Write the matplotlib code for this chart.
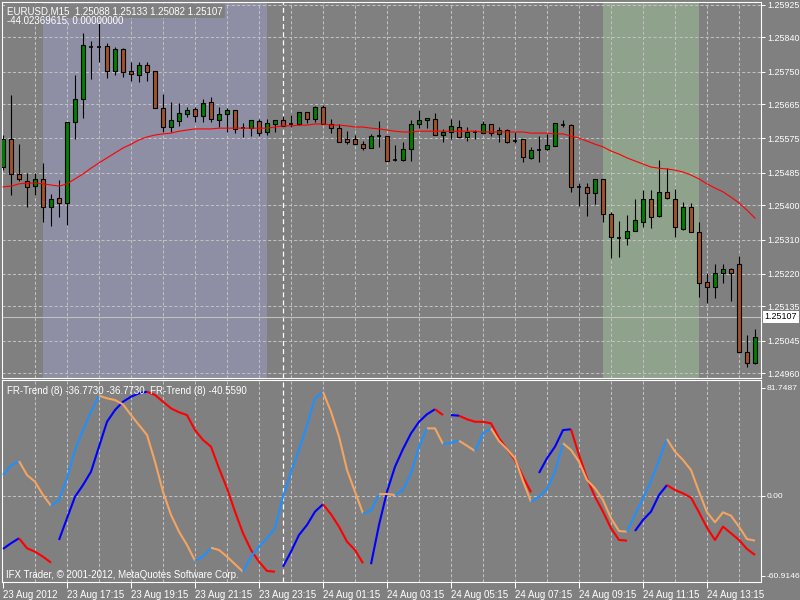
import numpy as np
import pandas as pd
import matplotlib
matplotlib.use('Agg')
import matplotlib.pyplot as plt
from matplotlib.transforms import blended_transform_factory

plt.rcParams['font.family'] = ['Liberation Sans', 'DejaVu Sans']

# EURUSD M15 bars, 23 Aug 2012 15:15 -> 24 Aug 2012 14:45
bar_times = pd.date_range('2012-08-23 15:15', periods=95, freq='15min')

opens = [1.25500, 1.25573, 1.25482, 1.25463, 1.25450, 1.25469, 1.25395, 1.25419, 1.25406, 1.25618,
         1.25678, 1.25815, 1.25815, 1.25817, 1.25752, 1.25809, 1.25752, 1.25741, 1.25768, 1.25752,
         1.25655, 1.25605, 1.25621, 1.25639, 1.25652, 1.25634, 1.25671, 1.25623, 1.25639, 1.25650,
         1.25602, 1.25602, 1.25621, 1.25592, 1.25613, 1.25623, 1.25613, 1.25613, 1.25644, 1.25626,
         1.25657, 1.25613, 1.25602, 1.25573, 1.25573, 1.25560, 1.25550, 1.25581, 1.25581, 1.25518,
         1.25518, 1.25547, 1.25613, 1.25623, 1.25626, 1.25584, 1.25592, 1.25605, 1.25579, 1.25592,
         1.25589, 1.25613, 1.25587, 1.25597, 1.25568, 1.25573, 1.25524, 1.25545, 1.25547, 1.25555,
         1.25610, 1.25610, 1.25448, 1.25448, 1.25432, 1.25469, 1.25377, 1.25314, 1.25314, 1.25332,
         1.25356, 1.25416, 1.25372, 1.25435, 1.25416, 1.25338, 1.25395, 1.25330, 1.25199, 1.25185,
         1.25222, 1.25233, 1.25246, 1.25015, 1.24986]
highs = [1.25584, 1.25689, 1.25560, 1.25484, 1.25484, 1.25511, 1.25429, 1.25466, 1.25618, 1.25741,
         1.25851, 1.25830, 1.25878, 1.25825, 1.25815, 1.25812, 1.25775, 1.25775, 1.25775, 1.25752,
         1.25691, 1.25671, 1.25668, 1.25657, 1.25657, 1.25678, 1.25684, 1.25657, 1.25655, 1.25650,
         1.25615, 1.25623, 1.25626, 1.25626, 1.25623, 1.25634, 1.25636, 1.25644, 1.25644, 1.25660,
         1.25663, 1.25626, 1.25613, 1.25594, 1.25584, 1.25568, 1.25587, 1.25621, 1.25581, 1.25558,
         1.25566, 1.25623, 1.25650, 1.25629, 1.25642, 1.25600, 1.25626, 1.25623, 1.25605, 1.25597,
         1.25621, 1.25613, 1.25605, 1.25600, 1.25592, 1.25573, 1.25553, 1.25581, 1.25587, 1.25615,
         1.25623, 1.25613, 1.25458, 1.25458, 1.25469, 1.25469, 1.25382, 1.25359, 1.25374, 1.25416,
         1.25440, 1.25440, 1.25518, 1.25497, 1.25442, 1.25408, 1.25406, 1.25356, 1.25222, 1.25246,
         1.25246, 1.25235, 1.25267, 1.25060, 1.25075]
lows = [1.25492, 1.25427, 1.25463, 1.25395, 1.25427, 1.25356, 1.25345, 1.25369, 1.25348, 1.25573,
        1.25629, 1.25731, 1.25775, 1.25733, 1.25741, 1.25736, 1.25726, 1.25723, 1.25726, 1.25655,
        1.25592, 1.25592, 1.25608, 1.25631, 1.25618, 1.25618, 1.25618, 1.25605, 1.25592, 1.25589,
        1.25579, 1.25581, 1.25581, 1.25584, 1.25592, 1.25608, 1.25605, 1.25610, 1.25615, 1.25618,
        1.25613, 1.25589, 1.25566, 1.25560, 1.25560, 1.25545, 1.25550, 1.25553, 1.25516, 1.25516,
        1.25516, 1.25516, 1.25602, 1.25602, 1.25584, 1.25566, 1.25573, 1.25579, 1.25568, 1.25573,
        1.25589, 1.25581, 1.25566, 1.25563, 1.25563, 1.25513, 1.25521, 1.25513, 1.25545, 1.25555,
        1.25605, 1.25435, 1.25398, 1.25372, 1.25403, 1.25356, 1.25262, 1.25264, 1.25296, 1.25332,
        1.25343, 1.25340, 1.25369, 1.25416, 1.25317, 1.25335, 1.25330, 1.25159, 1.25144, 1.25157,
        1.25196, 1.25149, 1.25015, 1.24976, 1.24984]
closes = [1.25573, 1.25482, 1.25469, 1.25448, 1.25469, 1.25395, 1.25416, 1.25406, 1.25618, 1.25678,
          1.25820, 1.25815, 1.25815, 1.25752, 1.25809, 1.25749, 1.25744, 1.25768, 1.25749, 1.25655,
          1.25605, 1.25623, 1.25642, 1.25650, 1.25634, 1.25668, 1.25626, 1.25639, 1.25650, 1.25600,
          1.25602, 1.25623, 1.25589, 1.25615, 1.25623, 1.25608, 1.25613, 1.25644, 1.25626, 1.25657,
          1.25613, 1.25602, 1.25566, 1.25566, 1.25560, 1.25550, 1.25581, 1.25581, 1.25516, 1.25518,
          1.25547, 1.25613, 1.25623, 1.25629, 1.25584, 1.25592, 1.25608, 1.25579, 1.25592, 1.25592,
          1.25613, 1.25589, 1.25597, 1.25566, 1.25568, 1.25526, 1.25545, 1.25545, 1.25558, 1.25615,
          1.25610, 1.25448, 1.25448, 1.25432, 1.25469, 1.25377, 1.25317, 1.25314, 1.25332, 1.25361,
          1.25416, 1.25369, 1.25435, 1.25419, 1.25343, 1.25395, 1.25330, 1.25196, 1.25185, 1.25222,
          1.25233, 1.25222, 1.25015, 1.24986, 1.25054]
ma = [1.25448, 1.25450, 1.25456, 1.25458, 1.25458, 1.25456, 1.25453, 1.25450, 1.25456, 1.25469,
      1.25482, 1.25497, 1.25511, 1.25524, 1.25537, 1.25550, 1.25560, 1.25571, 1.25579, 1.25584,
      1.25587, 1.25589, 1.25594, 1.25597, 1.25600, 1.25600, 1.25600, 1.25602, 1.25602, 1.25602,
      1.25602, 1.25602, 1.25602, 1.25602, 1.25605, 1.25608, 1.25608, 1.25610, 1.25610, 1.25613,
      1.25613, 1.25610, 1.25610, 1.25608, 1.25605, 1.25605, 1.25602, 1.25600, 1.25597, 1.25594,
      1.25592, 1.25592, 1.25594, 1.25594, 1.25594, 1.25594, 1.25594, 1.25594, 1.25594, 1.25594,
      1.25592, 1.25592, 1.25592, 1.25592, 1.25592, 1.25592, 1.25589, 1.25589, 1.25589, 1.25587,
      1.25587, 1.25581, 1.25576, 1.25568, 1.25560, 1.25553, 1.25542, 1.25534, 1.25524, 1.25516,
      1.25508, 1.25500, 1.25497, 1.25495, 1.25492, 1.25487, 1.25479, 1.25469, 1.25456, 1.25445,
      1.25435, 1.25421, 1.25406, 1.25387, 1.25366]
bid = 1.25107
price_levels = [1.25925, 1.25840, 1.25750, 1.25665, 1.25575, 1.25485,
                1.25400, 1.25310, 1.25220, 1.25135, 1.25045, 1.24960]

# FR-Trend (8) indicator, two lines
fr_fast = [15.7, 22.8, 26.3, 15.7, 10.6, 0.5, -7.6, -3.3, 13.2, 34.7,
           49.8, 63.7, 75.9, 73.9, 72.6, 69.3, 61.2, 53.6, 46.1, 25.8,
           3.0, -14.6, -27.3, -37.4, -49.3, -46.3, -39.5, -41.2, -46.3, -52.0,
           -57.7, -46.3, -38.7, -32.3, -24.7, -0.8, 18.2, 34.7, 53.6, 73.9,
           78.9, 63.7, 44.8, 19.5, 3.0, -13.4, -11.6, 1.1, 1.3, 0.5,
           4.3, 17.0, 37.2, 51.1, 51.1, 39.2, 40.2, 41.7, 37.9, 33.9,
           47.3, 51.1, 41.5, 35.4, 28.4, 11.2, -4.6, -1.0, 5.1, 18.2,
           39.8, 34.7, 25.8, 11.9, 5.6, -3.3, -17.1, -26.8, -27.3, -14.6,
           -2.0, 11.2, 27.1, 43.0, 33.4, 27.1, 19.5, 3.0, -12.6, -20.2,
           -12.6, -15.2, -23.5, -32.9, -34.1]
fr_slow = [-40.4, -36.1, -32.3, -39.9, -42.5, -46.3, -50.8, -33.6, -17.1, -0.8,
           8.1, 18.2, 37.2, 56.1, 65.0, 71.3, 75.1, 77.7, 78.9, 76.4,
           71.3, 66.3, 63.3, 61.2, 49.8, 42.3, 37.2, 20.8, 5.6, -12.1,
           -28.5, -41.2, -50.1, -57.1, -57.7, -53.9, -42.5, -29.8, -22.2, -12.1,
           -6.5, -14.1, -23.5, -34.9, -41.2, -51.3, -52.0, -22.2, 3.0, 22.0,
           35.4, 47.3, 56.1, 61.8, 65.6, 61.2, 61.2, 60.7, 58.0, 56.1,
           56.1, 54.9, 43.6, 35.4, 27.1, 14.4, 2.6, 17.2, 28.4, 37.2,
           49.8, 50.4, 30.9, 13.2, -0.8, -12.1, -24.7, -33.6, -34.1, -26.8,
           -18.4, -12.1, 0.5, 8.1, 4.3, 1.8, -1.5, -12.6, -24.3, -33.6,
           -23.5, -28.5, -33.6, -40.4, -45.0]
# colour runs (first bar, last bar, direction)
fast_runs = [(0, 2, 'up'), (2, 6, 'dn'), (6, 12, 'up'), (12, 24, 'dn'), (24, 26, 'up'),
             (26, 30, 'dn'), (30, 40, 'up'), (40, 45, 'dn'), (45, 47, 'up'), (47, 49, 'dn'),
             (49, 53, 'up'), (53, 55, 'dn'), (55, 57, 'up'), (57, 59, 'dn'), (59, 61, 'up'),
             (61, 66, 'dn'), (66, 70, 'up'), (70, 78, 'dn'), (78, 83, 'up'), (83, 94, 'dn')]
slow_runs = [(0, 2, 'up'), (2, 6, 'dn'), (7, 18, 'up'), (18, 34, 'dn'), (35, 40, 'up'),
             (40, 45, 'dn'), (46, 54, 'up'), (54, 55, 'dn'), (56, 57, 'up'), (57, 66, 'dn'),
             (67, 71, 'up'), (71, 78, 'dn'), (79, 83, 'up'), (83, 94, 'dn')]

sessions = [('2012-08-23 16:30', '2012-08-23 23:30', '#8e8ea4'),
            ('2012-08-24 10:00', '2012-08-24 13:00', '#8fa28b')]

BG = '#808080'
GRID = '#c0c0c0'
W, H = 800, 600
fig = plt.figure(figsize=(8, 6), dpi=100, facecolor=BG)


def px_axes(x0, y0, x1, y1):
    return fig.add_axes([x0 / W, 1 - y1 / H, (x1 - x0) / W, (y1 - y0) / H])


ax = px_axes(2, 2, 761, 378)
ax2 = px_axes(2, 380, 761, 582)

x = np.arange(len(opens))
o, h, l, c = map(np.array, (opens, highs, lows, closes))

for a in (ax, ax2):
    a.set_facecolor(BG)
    a.set_xlim(-0.125, len(x) - 0.25)
    for s in a.spines.values():
        s.set_color('white')
        s.set_linewidth(0.8)
    for g in range(4, len(x), 4):
        a.axvline(g, color=GRID, lw=0.75, ls=(0, (3, 2)), zorder=1)

# day separator
day_idx = np.flatnonzero(bar_times.normalize() != bar_times.normalize()[0])[0]
for a in (ax, ax2):
    a.axvline(day_idx, color='white', lw=0.9, ls=(0, (4, 2.5)), zorder=1.5)

# session shading
for t0, t1, col in sessions:
    ax.axvspan(bar_times.get_loc(pd.Timestamp(t0)), bar_times.get_loc(pd.Timestamp(t1)),
               color=col, lw=0, zorder=0)

# main pane
ax.set_ylim(1.249469, 1.259328)
for lv in price_levels:
    ax.axhline(lv, color=GRID, lw=0.75, ls=(0, (3, 2)), zorder=1)
ax.axhline(bid, color=GRID, lw=0.8, zorder=2)

ax.vlines(x, l, h, color='black', lw=0.8, zorder=3)
up = c > o
dn = c < o
dj = c == o
ax.bar(x[up], (c - o)[up], bottom=o[up], width=0.6, color='#008000',
       edgecolor='black', lw=0.8, zorder=4)
ax.bar(x[dn], (o - c)[dn], bottom=c[dn], width=0.6, color='#a0522d',
       edgecolor='black', lw=0.8, zorder=4)
ax.hlines(o[dj], x[dj] - 0.3, x[dj] + 0.3, color='black', lw=1.2, zorder=4)
ax.plot(x, ma, color='red', lw=0.8, zorder=5)

ax.set_xticks([])
ax.yaxis.tick_right()
ax.set_yticks(price_levels)
ax.set_yticklabels([f'{p:.5f}' for p in price_levels])
ax.tick_params(axis='y', colors='white', length=3, width=0.75, pad=1.2, labelsize=6.4)
tr = blended_transform_factory(ax.transAxes, ax.transData)
ax.text(1.005, bid, f'{bid:.5f}', transform=tr, color='black', fontsize=6.4,
        va='center', ha='left', bbox=dict(facecolor='white', edgecolor='none', pad=1.3))

# indicator pane
ax2.set_ylim(-65.5, 87.8)
ax2.axhline(0, color=GRID, lw=0.75, ls=(0, (3, 2)), zorder=1)
colors_fast = {'up': '#1e90ff', 'dn': '#f4a460'}
colors_slow = {'up': '#0000ff', 'dn': '#ff0000'}
for vals, runs, cols in ((fr_slow, slow_runs, colors_slow), (fr_fast, fast_runs, colors_fast)):
    vals = np.array(vals)
    for a0, a1, d in runs:
        ax2.plot(x[a0:a1 + 1], vals[a0:a1 + 1], color=cols[d], lw=1.5, zorder=3,
                 solid_capstyle='butt')

ind_ticks = [81.7487, 0.0, -60.9146]
ax2.yaxis.tick_right()
ax2.set_yticks(ind_ticks)
ax2.set_yticklabels(['81.7487', '0.00', '-60.9146'])
ax2.tick_params(axis='y', colors='white', length=3, width=0.75, pad=1.0, labelsize=6.1)

tick_idx = list(range(0, len(x), 8))
tick_labels = ['23 Aug 2012'] + [bar_times[i].strftime('%d %b %H:%M') for i in tick_idx[1:]]
ax2.set_xticks(tick_idx)
ax2.set_xticklabels(tick_labels)
ax2.tick_params(axis='x', colors='white', length=4, width=0.75, pad=1.5, labelsize=7)
for lab in ax2.get_xticklabels():
    lab.set_horizontalalignment('left')

# texts
fig.text(7 / W, 1 - 11 / H, 'EURUSD,M15  1.25088 1.25133 1.25082 1.25107', color='white',
         fontsize=7, va='center', bbox=dict(facecolor=BG, edgecolor='none', pad=1.5))
fig.text(7 / W, 1 - 20.5 / H, '-44.02369615, 0.00000000', color='white', fontsize=7, va='center')
fig.text(7 / W, 1 - 391 / H, 'FR-Trend (8) -36.7730 -36.7730  FR-Trend (8) -40.5590',
         color='white', fontsize=7, va='center')
fig.text(6 / W, 1 - 575.5 / H, 'IFX Trader, \u00a9 2001-2012, MetaQuotes Software Corp.',
         color='white', fontsize=7, va='center')

fig.savefig('out.png', dpi=100, facecolor=BG)
